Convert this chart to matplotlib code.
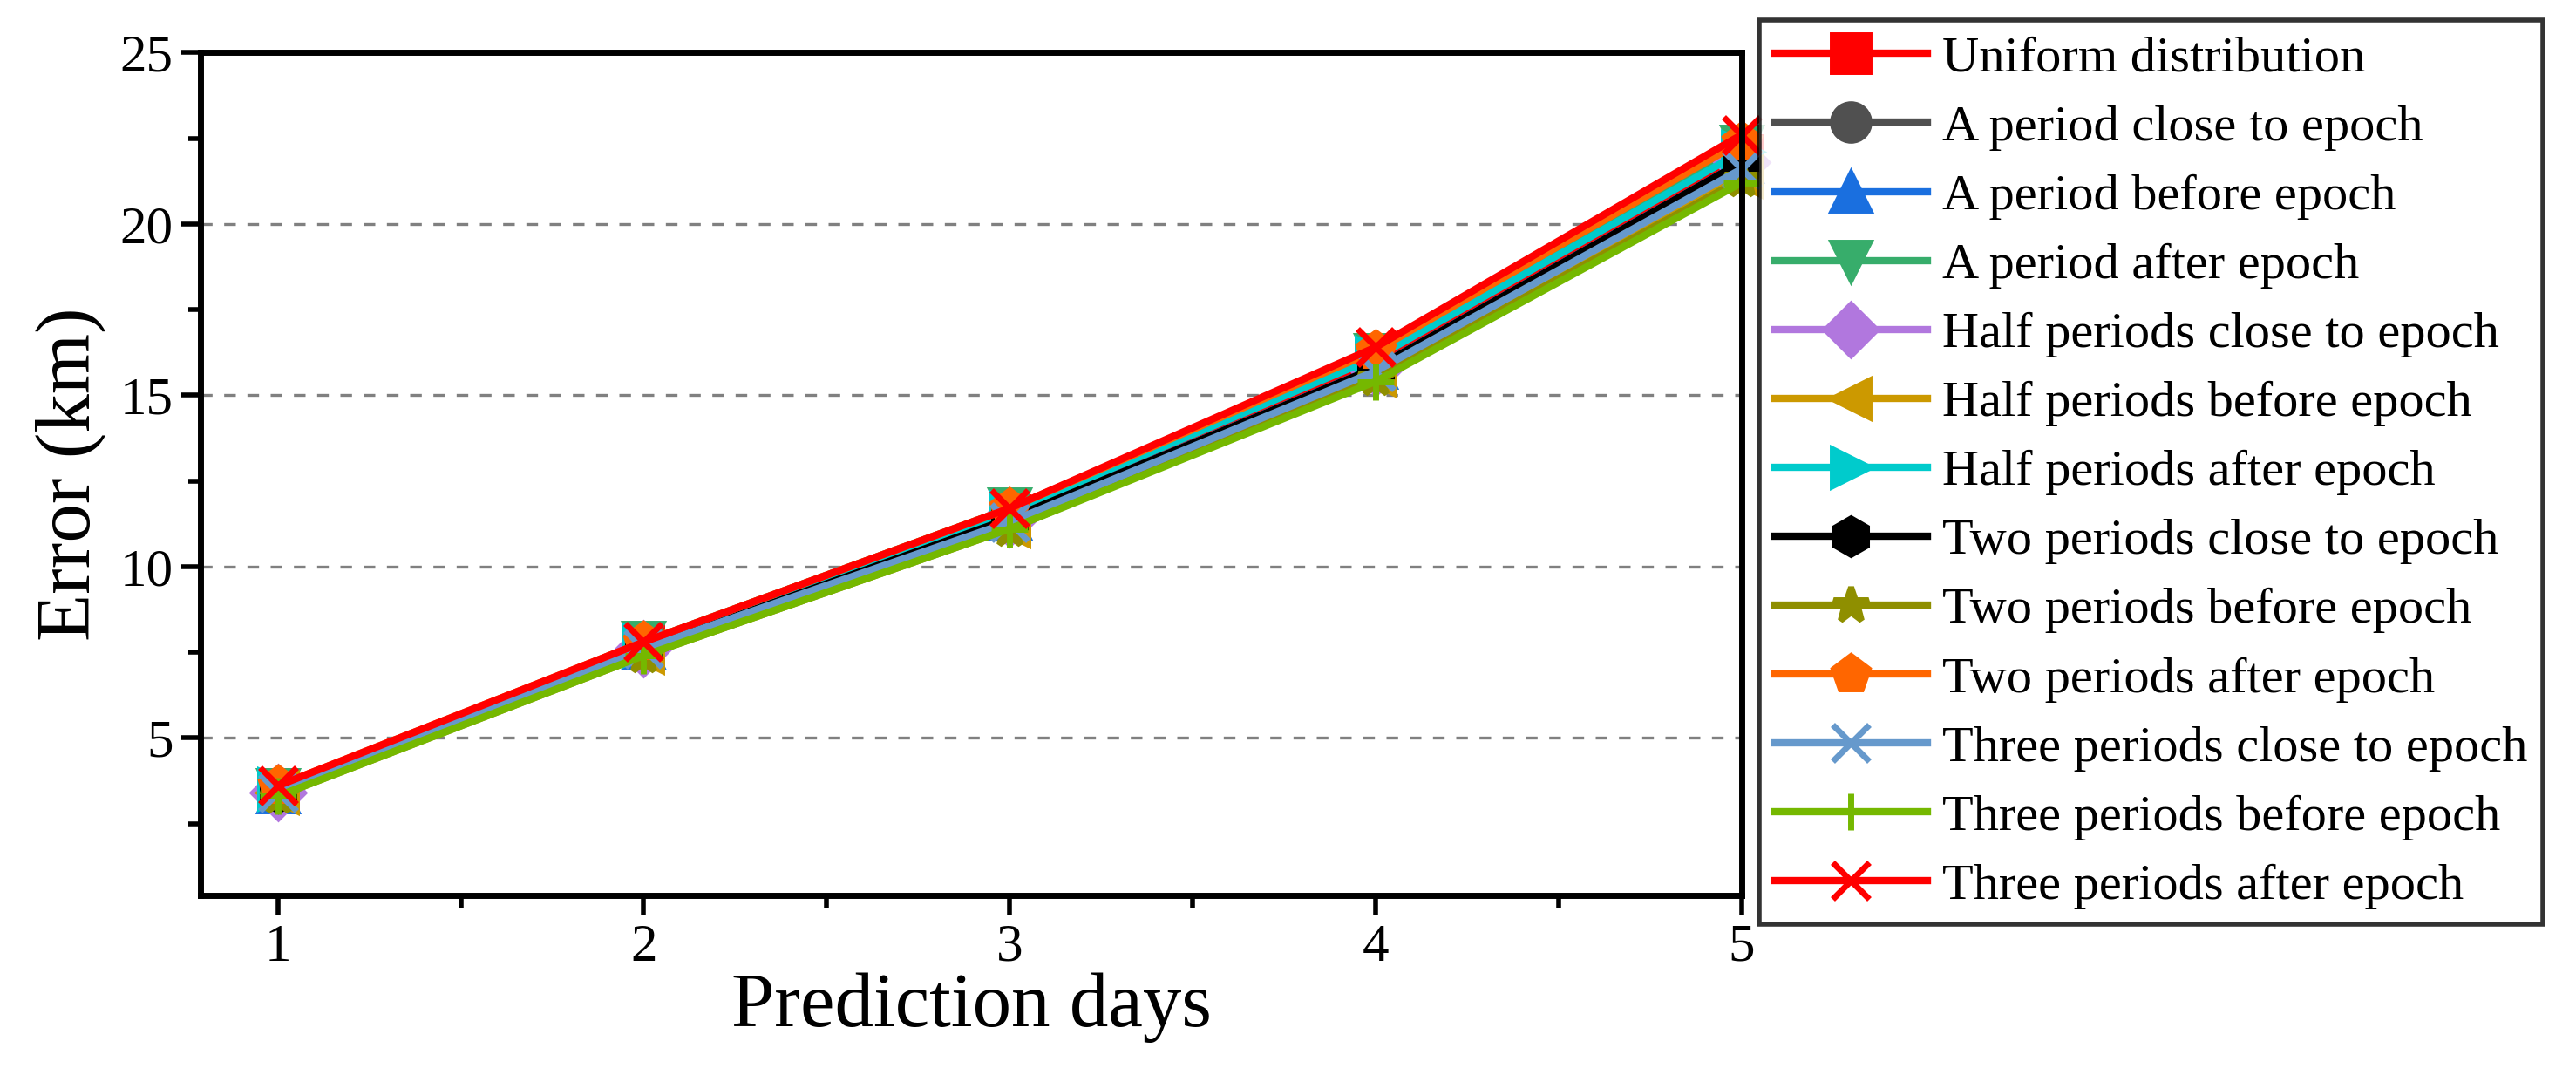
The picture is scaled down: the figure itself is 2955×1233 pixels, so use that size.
import matplotlib
matplotlib.use("Agg")
import matplotlib.pyplot as plt
from matplotlib.ticker import MultipleLocator

plt.rcParams['font.family'] = ['Liberation Serif', 'DejaVu Serif']

days = [1, 2, 3, 4, 5]
labels = ["Uniform distribution", "A period close to epoch", "A period before epoch",
          "A period after epoch", "Half periods close to epoch", "Half periods before epoch",
          "Half periods after epoch", "Two periods close to epoch", "Two periods before epoch",
          "Two periods after epoch", "Three periods close to epoch", "Three periods before epoch",
          "Three periods after epoch"]
colors = ["#ff0000", "#505050", "#1a6fdf", "#37ad6b", "#b177de", "#cc9900", "#00cbcc",
          "#000000", "#8f8f00", "#ff6600", "#6699cc", "#75b800", "#ff0000"]
markers = ["s", "o", "^", "v", "D", "<", ">", "h", "*", "p", "x", "+", "x"]
values = [
    [3.5, 7.7, 11.5, 16.0, 22.0],
    [3.4, 7.6, 11.4, 15.8, 21.7],
    [3.4, 7.6, 11.4, 15.8, 21.8],
    [3.5, 7.8, 11.7, 16.2, 22.3],
    [3.4, 7.6, 11.4, 15.8, 21.8],
    [3.4, 7.5, 11.2, 15.6, 21.4],
    [3.5, 7.7, 11.6, 16.1, 22.1],
    [3.4, 7.6, 11.4, 15.8, 21.8],
    [3.3, 7.4, 11.1, 15.5, 21.3],
    [3.6, 7.8, 11.7, 16.3, 22.4],
    [3.4, 7.6, 11.3, 15.7, 21.6],
    [3.3, 7.4, 11.1, 15.4, 21.2],
    [3.6, 7.8, 11.7, 16.4, 22.6],
]

fig = plt.figure(figsize=(14.775, 6.165), dpi=200)
ax = fig.add_axes([0.078, 0.167, 0.598, 0.784])
for lab, c, m, v in zip(labels, colors, markers, values):
    ax.plot(days, v, color=c, marker=m, lw=3.0, ms=15, mew=2.5, label=lab, clip_on=False)

ax.set_xlim(0.79, 5)
ax.set_ylim(0.4, 25)
ax.xaxis.set_major_locator(MultipleLocator(1))
ax.xaxis.set_minor_locator(MultipleLocator(0.5))
ax.yaxis.set_minor_locator(MultipleLocator(2.5))
ax.set_yticks([5, 10, 15, 20, 25])
ax.yaxis.grid(True, linestyle='--', color='gray', lw=1.2, dashes=(4, 4))
for s in ax.spines.values():
    s.set_linewidth(2.5)
ax.tick_params(which='major', length=8, width=2, labelsize=22)
ax.tick_params(which='minor', length=5, width=2)
ax.set_xlabel("Prediction days", fontsize=32, labelpad=0)
ax.set_ylabel("Error (km)", fontsize=32, labelpad=6)

leg = fig.legend(loc='upper left', bbox_to_anchor=(0.683, 0.981), fontsize=21,
                 frameon=True, fancybox=False, edgecolor='black', borderpad=0.3,
                 labelspacing=0.45, handlelength=3.0, handletextpad=0.3,
                 borderaxespad=0)
leg.get_frame().set_linewidth(2)
fig.savefig("out.png", dpi=200)
